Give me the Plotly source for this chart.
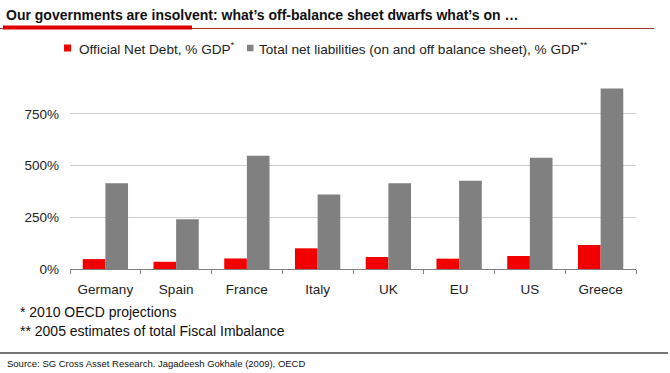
import plotly.graph_objects as go

categories = ["Germany", "Spain", "France", "Italy", "UK", "EU", "US", "Greece"]
official_net_debt = [48, 35, 51, 100, 58, 50, 63, 116]
total_net_liabilities = [415, 240, 547, 360, 415, 427, 538, 872]
y_ticks = [0, 250, 500, 750]
y_tick_labels = ["0%", "250%", "500%", "750%"]
series_names = ["Official Net Debt, % GDP<sup>*</sup>",
                "Total net liabilities (on and off balance sheet), % GDP<sup>**</sup>"]
series_colors = ["#f20000", "#808080"]

FONT = "Liberation Sans, Arial, sans-serif"
L, T, W, H = 70, 88, 566, 181

def px(x):
    return (x - L) / W

def py(y):
    return 1 - (y - T) / H

fig = go.Figure()
for name, vals, col in zip(series_names, [official_net_debt, total_net_liabilities], series_colors):
    fig.add_trace(go.Bar(x=categories, y=vals, name=name,
                         marker=dict(color=col, line=dict(width=0))))

fig.update_layout(
    width=670, height=373,
    margin=dict(l=L, r=670 - L - W, t=T, b=373 - T - H, autoexpand=False),
    paper_bgcolor="white", plot_bgcolor="white",
    font=dict(family=FONT, size=13, color="#222222"),
    barmode="group", bargap=0.36, bargroupgap=0.0,
    showlegend=False,
    xaxis=dict(showline=True, linecolor="#808080", linewidth=1, automargin=False,
               ticks="outside", tickson="boundaries", ticklen=4, tickcolor="#808080",
               ticklabelstandoff=8,
               tickfont=dict(size=13.5, color="#222222"), showgrid=False),
    yaxis=dict(range=[0, 875], tickvals=y_ticks, ticktext=y_tick_labels, automargin=False,
               showgrid=True, gridcolor="#cccccc", gridwidth=1, zeroline=False,
               ticklabelstandoff=10,
               tickfont=dict(size=13.5, color="#222222"), ticks="", showline=False),
)

# Title & decorations
fig.add_annotation(text="<b>Our governments are insolvent: what’s off-balance sheet dwarfs what’s on …</b>",
                   xref="paper", yref="paper", x=px(4), y=py(15), xanchor="left", yanchor="middle",
                   showarrow=False, font=dict(size=14, color="#111111"))
fig.add_shape(type="line", xref="paper", yref="paper", x0=px(0), x1=px(654),
              y0=py(28.5), y1=py(28.5), line=dict(color="#a83232", width=1))
fig.add_shape(type="line", xref="paper", yref="paper", x0=px(3), x1=px(192),
              y0=py(27.5), y1=py(27.5), line=dict(color="#e00000", width=4))

# Manual legend
legend_items = [(64, 77, 7), (247, 257, 6.5)]
for (sx, tx, sz), name, col in zip(legend_items, series_names, series_colors):
    fig.add_shape(type="rect", xref="paper", yref="paper", x0=px(sx), x1=px(sx + sz),
                  y0=py(48 + sz / 2), y1=py(48 - sz / 2), fillcolor=col, line=dict(width=0))
    fig.add_annotation(text=name, xref="paper", yref="paper", x=px(tx), y=py(48),
                       xanchor="left", yanchor="middle", showarrow=False,
                       font=dict(size=13.6, color="#222222"))

fig.add_annotation(text="* 2010 OECD projections", xref="paper", yref="paper",
                   x=px(18), y=py(312), xanchor="left", yanchor="middle", showarrow=False,
                   font=dict(size=14, color="#111111"))
fig.add_annotation(text="** 2005 estimates of total Fiscal Imbalance", xref="paper", yref="paper",
                   x=px(18), y=py(331), xanchor="left", yanchor="middle", showarrow=False,
                   font=dict(size=14, color="#111111"))
fig.add_shape(type="line", xref="paper", yref="paper", x0=px(0), x1=px(668),
              y0=py(353), y1=py(353), line=dict(color="#777777", width=2))
fig.add_annotation(text="Source: SG Cross Asset Research. Jagadeesh Gokhale (2009), OECD", xref="paper", yref="paper",
                   x=px(5), y=py(363), xanchor="left", yanchor="middle", showarrow=False,
                   font=dict(size=9.5, color="#111111"))

fig.write_html("out.html", config={"displayModeBar": False},
               post_script="document.body.style.margin='0';document.body.style.padding='0';")
